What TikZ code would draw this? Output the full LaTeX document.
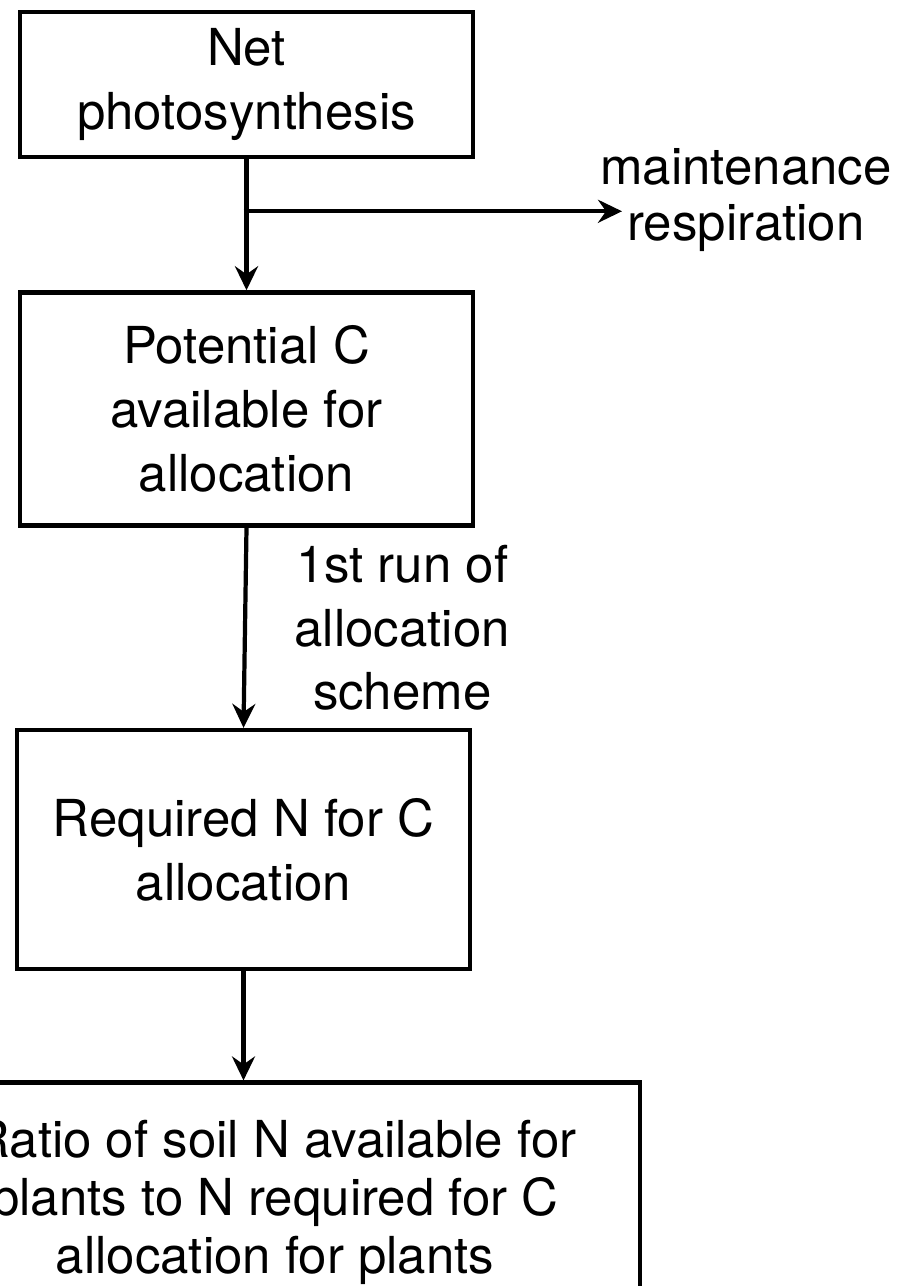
\documentclass[tikz,border=0pt]{standalone}
\usepackage{fontspec}
\setmainfont{TeX Gyre Heros}
\usepackage{tikz}
\usetikzlibrary{positioning, arrows.meta}

\begin{document}
\begin{tikzpicture}[
    node distance=2.62cm,
    block/.style={
        rectangle,
        minimum width=9.06cm,
        minimum height=2.9cm,
        align=center,
        draw=black,
        line width=2.6pt,
        font=\fontsize{29}{36.3}\selectfont
    },
    lbl/.style={
        align=center,
        inner sep=0pt,
        font=\fontsize{29}{36.3}\selectfont
    },
    arrow/.style={line width=2.4pt,-{Stealth[length=4.8mm,width=4.6mm,inset=1.6mm]}}
]
\useasboundingbox (0,0) rectangle (18,-25.72);

% Nodes
\node (net) [block] at (4.93,-1.69) {Net\\photosynthesis};
\node (pot) [block, minimum height=4.66cm, below=2.62cm of net] {Potential C\\available for\\allocation};
\node (req) [block, minimum height=4.78cm, below=4cm of pot, xshift=-0.06cm] {Required N for C\\allocation};
\node (ratio) [block, minimum width=14.6cm, minimum height=4.8cm, below=2.18cm of req, xshift=0.63cm,
    font=\fontsize{29}{33}\selectfont] {Ratio of soil N available for\\plants to N required for C\\allocation for plants};
\node (resp) [lbl, font=\fontsize{29}{31.8}\selectfont] at (14.92,-4.0) {maintenance\\respiration};
\coordinate (split) at ([yshift=-1.04cm]net.south);
\coordinate (respin) at (12.44,-4.18);

% Arrows
\draw [arrow] (net) -- (pot);
\draw [arrow] ([xshift=-0.06cm]split) -- (split -| respin);
\draw [arrow] (pot.south) -- (req.north)
    node [lbl, midway, right=0.95cm] {1st run of\\allocation\\scheme};
\draw [arrow] (req.south) -- (req.south |- ratio.north);

\end{tikzpicture}
\end{document}
